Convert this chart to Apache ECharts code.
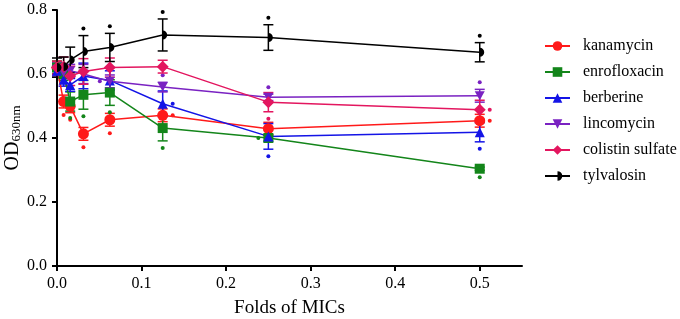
<!DOCTYPE html>
<html>
<head>
<meta charset="utf-8">
<script src="https://cdn.jsdelivr.net/npm/echarts@6/dist/echarts.min.js"></script>
<style>
  html, body { margin: 0; padding: 0; background: #fff; }
  #chart { width: 680px; height: 319px; }
</style>
</head>
<body>
<div id="chart"></div>
<script>
// 横坐标：MIC 倍数
const folds = [0, 0.0078125, 0.015625, 0.03125, 0.0625, 0.125, 0.25, 0.5];
const xTicks = [0, 0.1, 0.2, 0.3, 0.4, 0.5];

// OD630 均值
const kanamycin = [0.62, 0.514, 0.499, 0.413, 0.457, 0.471, 0.429, 0.454];
const enrofloxacin = [0.62, 0.60, 0.514, 0.535, 0.542, 0.431, 0.40, 0.304];
const berberine = [0.61, 0.582, 0.566, 0.594, 0.58, 0.507, 0.405, 0.418];
const lincomycin = [0.615, 0.605, 0.61, 0.60, 0.577, 0.559, 0.527, 0.532];
const colistin = [0.62, 0.623, 0.594, 0.608, 0.62, 0.623, 0.512, 0.488];
const tylvalosin = [0.62, 0.623, 0.644, 0.670, 0.683, 0.722, 0.714, 0.668];

// 标准差
const kanamycinSD = [0.02, 0.02, 0.02, 0.02, 0.02, 0.02, 0.02, 0.02];
const enrofloxacinSD = [0.02, 0.02, 0.03, 0.045, 0.04, 0.04, 0.01, 0.005];
const berberineSD = [0.02, 0.02, 0.02, 0.04, 0.03, 0.04, 0.04, 0.03];
const lincomycinSD = [0.02, 0.02, 0.02, 0.03, 0.02, 0.015, 0.01, 0.02];
const colistinSD = [0.02, 0.03, 0.03, 0.04, 0.03, 0.02, 0.03, 0.03];
const tylvalosinSD = [0.03, 0.03, 0.04, 0.05, 0.044, 0.05, 0.04, 0.03];

// 显著性标记位置：u 上, d 下, r 右, l 左
const kanamycinSig = ['', 'd', 'd', 'd', 'd', 'r', '', 'r'];
const enrofloxacinSig = ['', '', 'd', 'd', 'd', 'd', 'l', 'd'];
const berberineSig = ['', '', '', '', '', 'r', 'd', 'd'];
const lincomycinSig = ['', '', '', '', 'l', 'u', 'u', 'u'];
const colistinSig = ['', '', '', '', '', '', 'd', 'r'];
const tylvalosinSig = ['', '', '', 'u', 'u', 'u', 'u', 'u'];

// 右半实心圆
const halfCircle = 'path://M0,-5 A5,5 0 0,1 0,5 Z M-5,0 L-5,0.05 L-4.95,0 Z';

const groups = [
  { name: 'kanamycin', y: kanamycin, sd: kanamycinSD, sig: kanamycinSig, color: '#ff1a1a', symbol: 'circle', size: 11 },
  { name: 'enrofloxacin', y: enrofloxacin, sd: enrofloxacinSD, sig: enrofloxacinSig, color: '#13851a', symbol: 'rect', size: 10 },
  { name: 'berberine', y: berberine, sd: berberineSD, sig: berberineSig, color: '#1414e6', symbol: 'triangle', size: 10 },
  { name: 'lincomycin', y: lincomycin, sd: lincomycinSD, sig: lincomycinSig, color: '#7a22c2', symbol: 'path://M0,0 L10,0 L5,9 Z', size: 10 },
  { name: 'colistin sulfate', y: colistin, sd: colistinSD, sig: colistinSig, color: '#e3165f', symbol: 'diamond', size: 12 },
  { name: 'tylvalosin', y: tylvalosin, sd: tylvalosinSD, sig: tylvalosinSig, color: '#000000', symbol: halfCircle, size: 9 }
];

const font = 'Liberation Serif';

const series = [];
groups.forEach(function (g) {
  // 误差棒 + 星号点
  series.push({
    name: g.name + ' SD',
    type: 'custom',
    z: 2,
    data: folds.map(function (x, i) { return [x, g.y[i], g.sd[i]]; }),
    encode: { x: 0, y: 1 },
    renderItem: function (params, api) {
      const x = api.value(0);
      const y = api.value(1);
      const sd = api.value(2);
      const top = api.coord([x, y + sd]);
      const bot = api.coord([x, y - sd]);
      const mid = api.coord([x, y]);
      const w = 5;
      const style = { stroke: g.color, lineWidth: 1.5 };
      const children = [
        { type: 'line', shape: { x1: top[0], y1: top[1], x2: bot[0], y2: bot[1] }, style: style },
        { type: 'line', shape: { x1: top[0] - w, y1: top[1], x2: top[0] + w, y2: top[1] }, style: style },
        { type: 'line', shape: { x1: bot[0] - w, y1: bot[1], x2: bot[0] + w, y2: bot[1] }, style: style }
      ];
      const s = g.sig[params.dataIndex];
      let dot = null;
      if (s === 'u') dot = [top[0], top[1] - 7];
      else if (s === 'd') dot = [bot[0], bot[1] + 7];
      else if (s === 'r') dot = [mid[0] + 10, mid[1]];
      else if (s === 'l') dot = [mid[0] - 10, mid[1]];
      if (dot) {
        children.push({ type: 'circle', shape: { cx: dot[0], cy: dot[1], r: 2 }, style: { fill: g.color } });
      }
      return { type: 'group', children: children };
    }
  });
  series.push({
    name: g.name,
    type: 'line',
    z: 3,
    data: folds.map(function (x, i) { return [x, g.y[i]]; }),
    symbol: g.symbol,
    symbolSize: g.size,
    symbolKeepAspect: true,
    showAllSymbol: true,
    color: g.color,
    lineStyle: { color: g.color, width: 1.5 },
    itemStyle: { color: g.color },
    emphasis: { disabled: true }
  });
});

const myChart = echarts.init(document.getElementById('chart'));
myChart.setOption({
  animation: false,
  grid: { left: 57, right: 158, top: 10, bottom: 53, outerBoundsMode: 'none' },
  legend: {
    data: groups.map(function (g) { return g.name; }),
    orient: 'vertical',
    left: 544,
    top: 38,
    padding: 0,
    itemWidth: 25,
    itemHeight: 12,
    itemGap: 10,
    textStyle: { fontFamily: font, fontSize: 16, color: '#000', padding: [0, 0, 0, 8] }
  },
  xAxis: {
    type: 'value',
    min: 0,
    max: 0.55,
    interval: 0.1,
    name: 'Folds of MICs',
    nameLocation: 'middle',
    nameGap: 33,
    nameMoveOverlap: false,
    nameTextStyle: { fontFamily: font, fontSize: 19, color: '#000' },
    splitLine: { show: false },
    axisLine: { lineStyle: { color: '#000', width: 2 } },
    axisTick: { length: 5, lineStyle: { color: '#000', width: 2 }, customValues: xTicks },
    axisLabel: {
      customValues: xTicks,
      margin: 10,
      fontFamily: font, fontSize: 16, color: '#000',
      formatter: function (v) { return v.toFixed(1); }
    }
  },
  yAxis: {
    type: 'value',
    min: 0,
    max: 0.8,
    interval: 0.2,
    name: '{a|OD}{b|630nm}',
    nameLocation: 'middle',
    nameRotate: 90,
    nameGap: 34,
    nameMoveOverlap: false,
    nameTextStyle: {
      rich: {
        a: { fontFamily: font, fontSize: 20, color: '#000' },
        b: { fontFamily: font, fontSize: 13, color: '#000', padding: [7, 0, 0, 0] }
      }
    },
    splitLine: { show: false },
    axisLine: { show: true, lineStyle: { color: '#000', width: 2 } },
    axisTick: { show: true, length: 5, lineStyle: { color: '#000', width: 2 } },
    axisLabel: {
      margin: 10,
      fontFamily: font, fontSize: 16, color: '#000',
      formatter: function (v) { return v.toFixed(1); }
    }
  },
  series: series
});
myChart.resize();
</script>
</body>
</html>
